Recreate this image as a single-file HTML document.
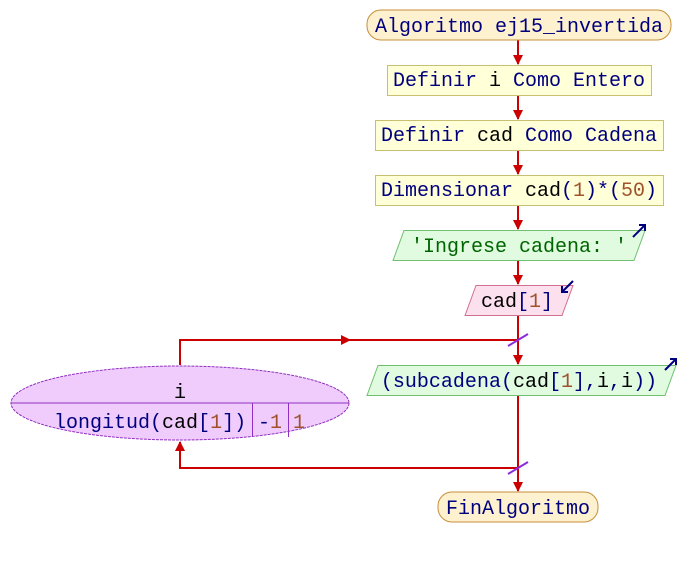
<!DOCTYPE html>
<html><head><meta charset="utf-8"><style>
html,body{margin:0;padding:0;background:#fff;}
svg text{font-family:"Liberation Mono",monospace;font-size:20px;}
.k{fill:#00007f}.v{fill:#000}.n{fill:#a0522d}.s{fill:#006400}
</style></head><body>
<svg width="697" height="558" viewBox="0 0 697 558" xmlns="http://www.w3.org/2000/svg">
<defs>
<marker id="ah" markerWidth="10" markerHeight="10" refX="9" refY="5" orient="auto" markerUnits="userSpaceOnUse">
<path d="M0,0 L10,5 L0,10 z" fill="#cc0000"/></marker>
</defs>
<g stroke="#cc0000" stroke-width="2" fill="none">
<line x1="518" y1="40" x2="518" y2="64" marker-end="url(#ah)"/>
<line x1="518" y1="95" x2="518" y2="119" marker-end="url(#ah)"/>
<line x1="518" y1="150" x2="518" y2="174" marker-end="url(#ah)"/>
<line x1="518" y1="205" x2="518" y2="229" marker-end="url(#ah)"/>
<line x1="518" y1="260" x2="518" y2="284" marker-end="url(#ah)"/>
<line x1="518" y1="315" x2="518" y2="364" marker-end="url(#ah)"/>
<polyline points="180,365 180,340 350,340"/>
<line x1="340" y1="340" x2="350" y2="340" marker-end="url(#ah)"/>
<line x1="350" y1="340" x2="518" y2="340"/>
<line x1="518" y1="395" x2="518" y2="491" marker-end="url(#ah)"/>
<polyline points="518,468 180,468 180,443"/>
<line x1="180" y1="450" x2="180" y2="442" marker-end="url(#ah)"/>
</g>
<g stroke="#8a2be2" stroke-width="2">
<line x1="508" y1="346" x2="528" y2="334"/>
<line x1="508" y1="474" x2="528" y2="462"/>
</g>
<rect x="367" y="10" width="304" height="30" rx="14" fill="#fdf1d0" stroke="#c8903a"/>
<text x="519" y="32" text-anchor="middle" class="k">Algoritmo ej15_invertida</text>
<rect x="387.5" y="65.5" width="264" height="30" fill="#ffffd8" stroke="#c8c070"/>
<text x="519" y="86" text-anchor="middle" class="k">Definir <tspan class="v">i</tspan> Como Entero</text>
<rect x="375.5" y="120.5" width="288" height="30" fill="#ffffd8" stroke="#c8c070"/>
<text x="519" y="141" text-anchor="middle" class="k">Definir <tspan class="v">cad</tspan> Como Cadena</text>
<rect x="375.5" y="175.5" width="288" height="30" fill="#ffffd8" stroke="#c8c070"/>
<text x="519" y="196" text-anchor="middle" class="k">Dimensionar <tspan class="v">cad</tspan>(<tspan class="n">1</tspan>)*(<tspan class="n">50</tspan>)</text>
<polygon points="404,230.5 645,230.5 634,260.5 393,260.5" fill="#e0fbe0" stroke="#70c070"/>
<text x="519" y="252" text-anchor="middle" class="s">'Ingrese cadena: '</text>
<g stroke="#00007f" stroke-width="2" fill="none"><line x1="633" y1="237" x2="645" y2="225"/><polyline points="639,225 645,225 645,231"/></g>
<polygon points="476,285.5 573,285.5 562,315.5 465,315.5" fill="#fde0ee" stroke="#d07090"/>
<text x="517" y="307" text-anchor="middle" class="v">cad<tspan class="k">[</tspan><tspan class="n">1</tspan><tspan class="k">]</tspan></text>
<g stroke="#00007f" stroke-width="2" fill="none"><line x1="562" y1="292" x2="573" y2="281"/><polyline points="562,286 562,292 568,292"/></g>
<polygon points="378,365.5 676,365.5 665,395.5 367,395.5" fill="#e0fbe0" stroke="#70c070"/>
<text x="519" y="387" text-anchor="middle" class="k">(subcadena(<tspan class="v">cad</tspan>[<tspan class="n">1</tspan>],<tspan class="v">i</tspan>,<tspan class="v">i</tspan>))</text>
<g stroke="#00007f" stroke-width="2" fill="none"><line x1="665" y1="370" x2="676" y2="359"/><polyline points="670,359 676,359 676,365"/></g>
<ellipse cx="180" cy="403" rx="169" ry="37" fill="#f0ccfc" stroke="#9030c0" stroke-dasharray="3,1"/>
<line x1="11" y1="403" x2="349" y2="403" stroke="#9030c0"/>
<line x1="252.5" y1="403" x2="252.5" y2="437" stroke="#9030c0"/>
<line x1="288.5" y1="403" x2="288.5" y2="437" stroke="#9030c0"/>
<text x="180" y="398" text-anchor="middle" class="v">i</text>
<text x="54" y="428" class="k">longitud(<tspan class="v">cad</tspan>[<tspan class="n">1</tspan>])</text>
<text x="258" y="428" class="k">-<tspan class="n">1</tspan></text>
<text x="293" y="428" class="n">1</text>
<rect x="438" y="492" width="160" height="30" rx="14" fill="#fdf1d0" stroke="#c8903a"/>
<text x="518" y="514" text-anchor="middle" class="k">FinAlgoritmo</text>
</svg>
</body></html>
